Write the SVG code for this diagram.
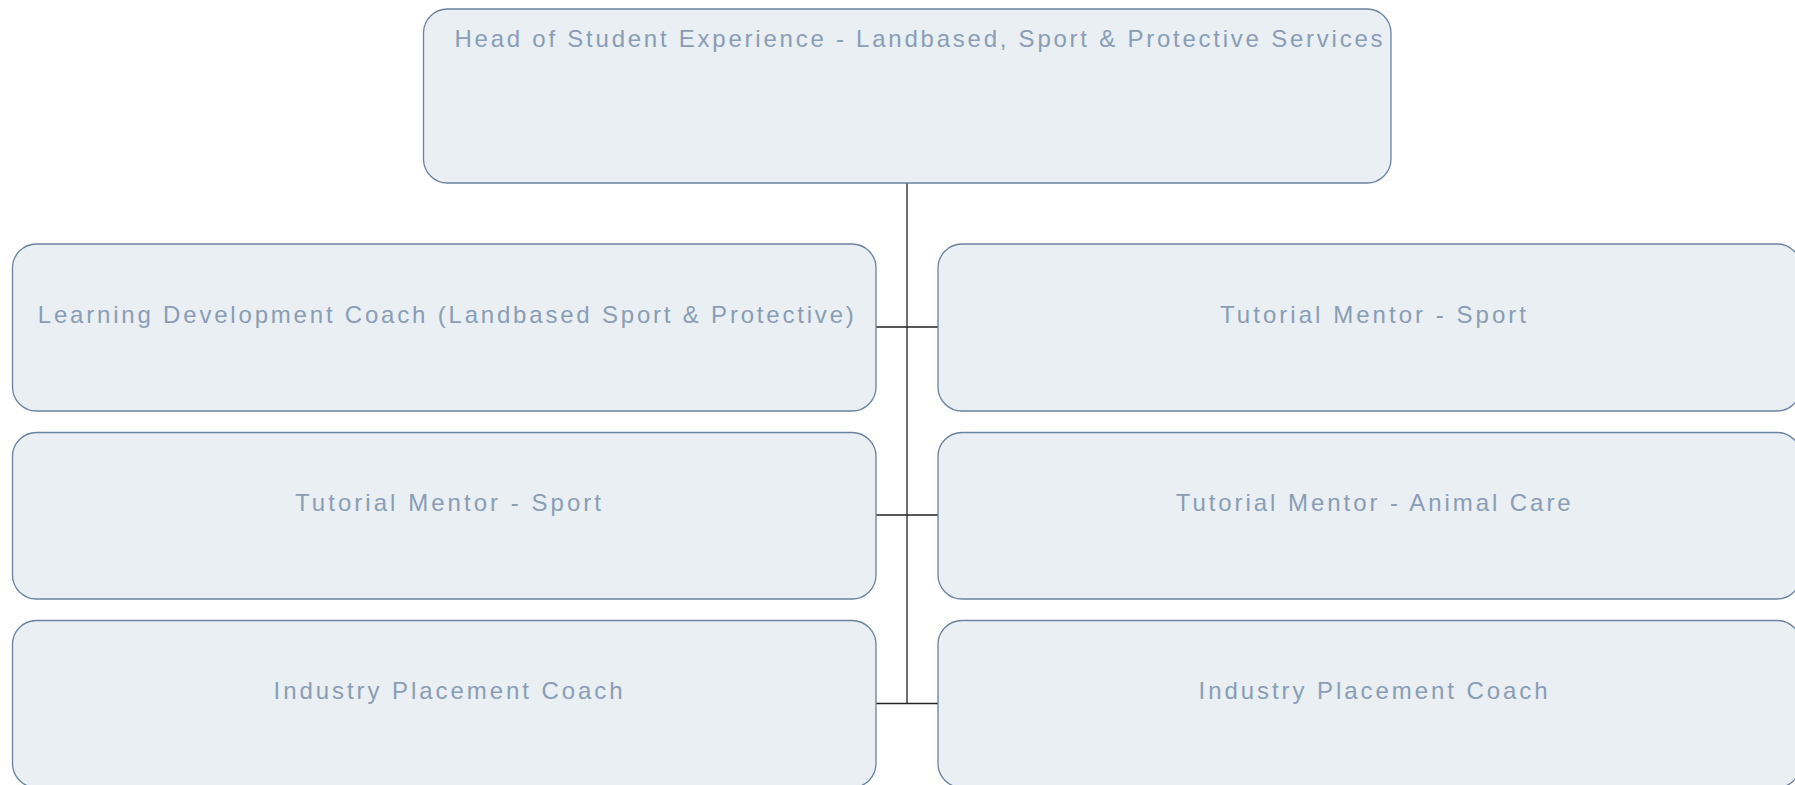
<svg xmlns="http://www.w3.org/2000/svg" width="1795" height="785" viewBox="0 0 1795 785">
<style>
.box{fill:#e9eff2;stroke:#6a82a0;stroke-width:1.3}
.lbl{font-family:"Liberation Sans",Arial,sans-serif;font-size:24px;fill:#8a9db5}
.conn{stroke:#222;stroke-width:1.3;fill:none}
</style>
<rect width="1795" height="785" fill="#fff"/>
<g id="connectors">
<line class="conn" x1="907" y1="183" x2="907" y2="703.5"/>
<line class="conn" x1="876" y1="327" x2="938" y2="327"/>
<line class="conn" x1="876" y1="515" x2="938" y2="515"/>
<line class="conn" x1="876" y1="703.5" x2="938" y2="703.5"/>
</g>
<g id="head">
<rect class="box" x="423.5" y="9" width="967.5" height="174" rx="24"/>
<text class="lbl" x="454.5" y="47" textLength="928" lengthAdjust="spacing">Head of Student Experience - Landbased, Sport &amp; Protective Services</text>
</g>
<g id="ldc">
<rect class="box" x="12.5" y="244" width="863.5" height="167" rx="24"/>
<text class="lbl" x="37.8" y="322.5" textLength="816" lengthAdjust="spacing">Learning Development Coach (Landbased Sport &amp; Protective)</text>
</g>
<g id="tm-sport-r">
<rect class="box" x="938" y="244" width="863" height="167" rx="24"/>
<text class="lbl" x="1220" y="322.5" textLength="306" lengthAdjust="spacing">Tutorial Mentor - Sport</text>
</g>
<g id="tm-sport-l">
<rect class="box" x="12.5" y="432.5" width="863.5" height="166.5" rx="24"/>
<text class="lbl" x="295" y="511" textLength="306" lengthAdjust="spacing">Tutorial Mentor - Sport</text>
</g>
<g id="tm-animal">
<rect class="box" x="938" y="432.5" width="863" height="166.5" rx="24"/>
<text class="lbl" x="1175.7" y="511" textLength="395" lengthAdjust="spacing">Tutorial Mentor - Animal Care</text>
</g>
<g id="ipc-l">
<rect class="box" x="12.5" y="620.5" width="863.5" height="167" rx="24"/>
<text class="lbl" x="273.6" y="699" textLength="349" lengthAdjust="spacing">Industry Placement Coach</text>
</g>
<g id="ipc-r">
<rect class="box" x="938" y="620.5" width="863" height="167" rx="24"/>
<text class="lbl" x="1198.6" y="699" textLength="349" lengthAdjust="spacing">Industry Placement Coach</text>
</g>
</svg>
